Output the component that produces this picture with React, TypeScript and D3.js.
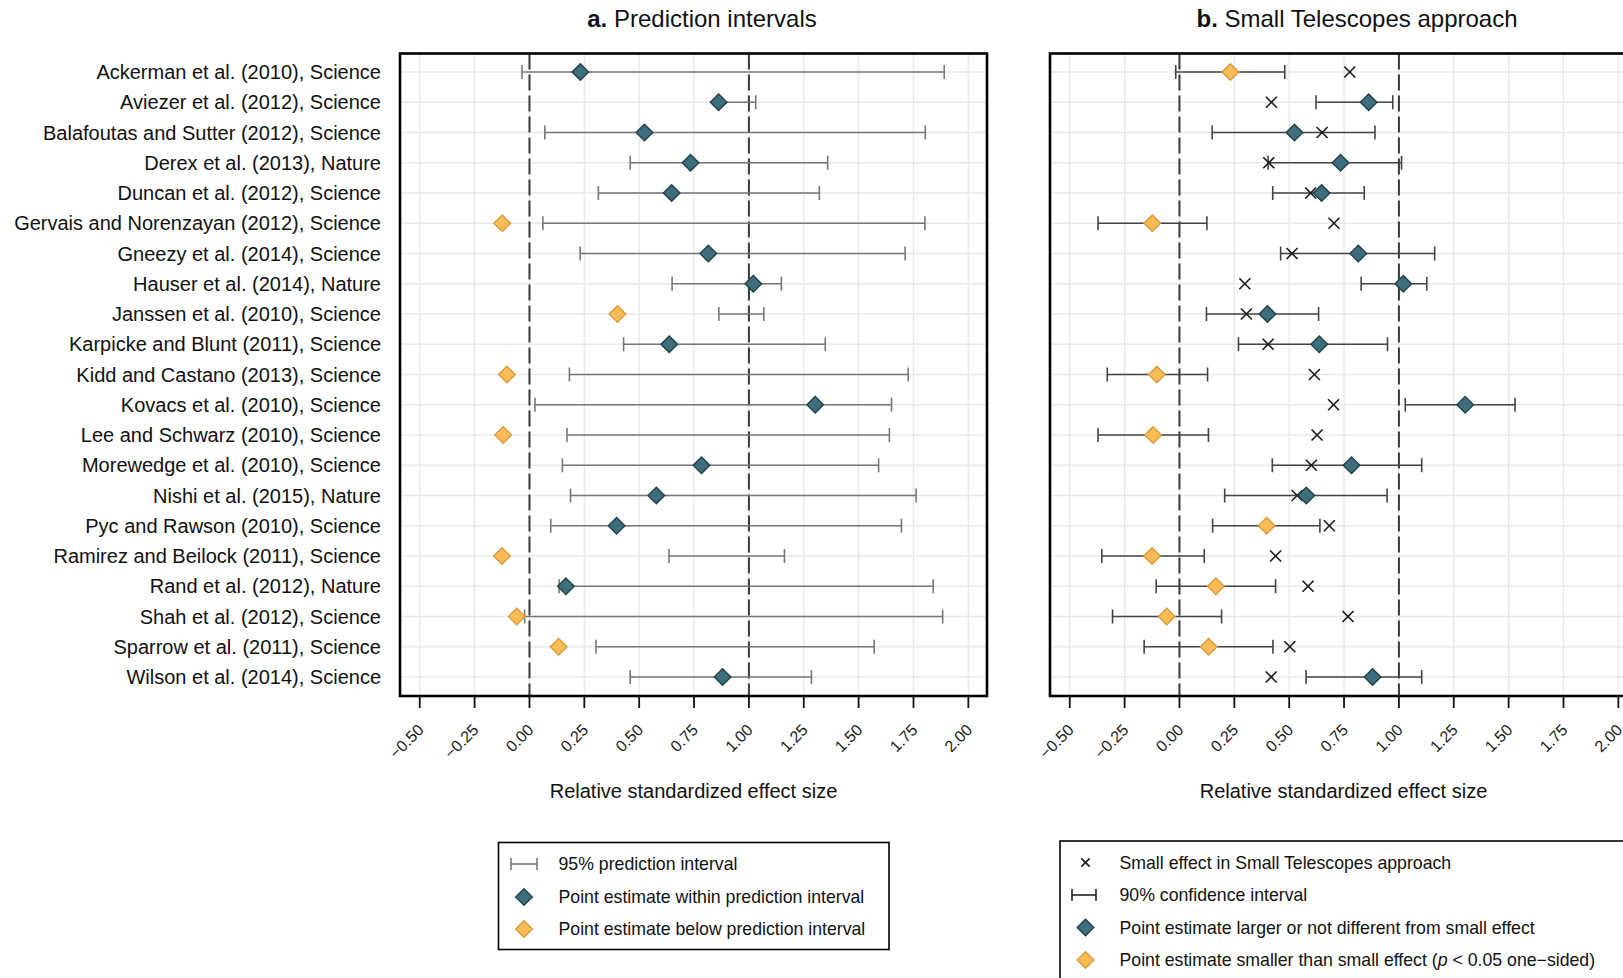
import React from "react";
import * as d3 from "d3";

const studies = [
  "Ackerman et al. (2010), Science",
  "Aviezer et al. (2012), Science",
  "Balafoutas and Sutter (2012), Science",
  "Derex et al. (2013), Nature",
  "Duncan et al. (2012), Science",
  "Gervais and Norenzayan (2012), Science",
  "Gneezy et al. (2014), Science",
  "Hauser et al. (2014), Nature",
  "Janssen et al. (2010), Science",
  "Karpicke and Blunt (2011), Science",
  "Kidd and Castano (2013), Science",
  "Kovacs et al. (2010), Science",
  "Lee and Schwarz (2010), Science",
  "Morewedge et al. (2010), Science",
  "Nishi et al. (2015), Nature",
  "Pyc and Rawson (2010), Science",
  "Ramirez and Beilock (2011), Science",
  "Rand et al. (2012), Nature",
  "Shah et al. (2012), Science",
  "Sparrow et al. (2011), Science",
  "Wilson et al. (2014), Science",
];

// point estimates (relative standardized effect size)
const estimate = [
  0.232, 0.862, 0.524, 0.734, 0.648, -0.124, 0.815, 1.02, 0.401, 0.637, -0.103,
  1.302, -0.12, 0.784, 0.578, 0.397, -0.125, 0.166, -0.058, 0.133, 0.88,
];

// 95% prediction interval (panel a)
const piLower = [
  -0.034, 0.855, 0.07, 0.459, 0.314, 0.061, 0.231, 0.65, 0.863, 0.429, 0.182,
  0.025, 0.171, 0.15, 0.187, 0.097, 0.636, 0.135, -0.022, 0.303, 0.459,
];
const piUpper = [
  1.89, 1.031, 1.804, 1.359, 1.321, 1.802, 1.712, 1.148, 1.068, 1.348, 1.726,
  1.65, 1.64, 1.591, 1.762, 1.695, 1.162, 1.84, 1.883, 1.571, 1.285,
];

// 90% confidence interval (panel b)
const ciLower = [
  -0.017, 0.622, 0.149, 0.404, 0.425, -0.371, 0.461, 0.828, 0.123, 0.269, -0.329,
  1.029, -0.371, 0.423, 0.206, 0.151, -0.354, -0.106, -0.305, -0.161, 0.577,
];
const ciUpper = [
  0.48, 0.972, 0.891, 1.012, 0.842, 0.125, 1.163, 1.127, 0.634, 0.948, 0.128,
  1.529, 0.132, 1.104, 0.946, 0.64, 0.113, 0.438, 0.192, 0.426, 1.104,
];
// small effect (d33) in Small Telescopes approach
const smallEffect = [
  0.776, 0.419, 0.65, 0.407, 0.598, 0.704, 0.513, 0.298, 0.305, 0.404, 0.615,
  0.702, 0.627, 0.601, 0.536, 0.683, 0.438, 0.586, 0.768, 0.503, 0.418,
];

const tickValues = [-0.5, -0.25, 0, 0.25, 0.5, 0.75, 1, 1.25, 1.5, 1.75, 2];
const tickLabels = ["\u22120.50", "\u22120.25", "0.00", "0.25", "0.50", "0.75", "1.00", "1.25", "1.50", "1.75", "2.00"];
const refLines = [0, 1];

const legendA = [
  "95% prediction interval",
  "Point estimate within prediction interval",
  "Point estimate below prediction interval",
];
const legendB = [
  "Small effect in Small Telescopes approach",
  "90% confidence interval",
  "Point estimate larger or not different from small effect",
];

const FONT = "'Liberation Sans', Arial, Helvetica, sans-serif";
const TEAL = "#3e6e7b";
const TEAL_STROKE = "#21414b";
const ORANGE = "#fbbb55";
const ORANGE_STROKE = "#d99a3d";
const GRID = "#e8e8e8";
const LEGEND_FS = 17.7;

const TOP = 53.5;
const BOTTOM = 696;
const DOMAIN: [number, number] = [-0.59, 2.085];

const y = d3.scalePoint<string>().domain(studies).range([72, 677]);
const diamondPath = d3.symbol().type(d3.symbolSquare).size(138)() as string;

function Diamond({ x, yy, orange }: { x: number; yy: number; orange: boolean }) {
  return (
    <path
      d={diamondPath}
      transform={`translate(${x},${yy}) rotate(45)`}
      fill={orange ? ORANGE : TEAL}
      stroke={orange ? ORANGE_STROKE : TEAL_STROKE}
      strokeWidth={1.4}
    />
  );
}

function Whisker({ x1, x2, yy, color, cap }: { x1: number; x2: number; yy: number; color: string; cap: number }) {
  return (
    <g stroke={color} strokeWidth={1.6} fill="none">
      <line x1={x1} x2={x2} y1={yy} y2={yy} />
      <line x1={x1} x2={x1} y1={yy - cap} y2={yy + cap} />
      <line x1={x2} x2={x2} y1={yy - cap} y2={yy + cap} />
    </g>
  );
}

function Cross({ x, yy, r }: { x: number; yy: number; r: number }) {
  return (
    <g stroke="#1e1e1e" strokeWidth={1.7}>
      <line x1={x - r} x2={x + r} y1={yy - r} y2={yy + r} />
      <line x1={x - r} x2={x + r} y1={yy + r} y2={yy - r} />
    </g>
  );
}

function Frame({ x, children }: { x: d3.ScaleLinear<number, number>; children: React.ReactNode }) {
  const [l, r] = x.range();
  return (
    <g>
      {tickValues.map((t) => (
        <line key={"g" + t} x1={x(t)} x2={x(t)} y1={TOP} y2={BOTTOM} stroke={GRID} strokeWidth={1.4} />
      ))}
      {studies.map((s) => (
        <line key={"h" + s} x1={l} x2={r} y1={y(s)} y2={y(s)} stroke={GRID} strokeWidth={1.4} />
      ))}
      {refLines.map((v) => (
        <line
          key={"ref" + v}
          x1={x(v)}
          x2={x(v)}
          y1={TOP}
          y2={BOTTOM}
          stroke="#3a3a3a"
          strokeWidth={2}
          strokeDasharray="16,5"
        />
      ))}
      {children}
      <rect x={l} y={TOP} width={r - l} height={BOTTOM - TOP} fill="none" stroke="#000" strokeWidth={2.6} />
      {tickValues.map((t, i) => (
        <g key={"t" + t}>
          <line x1={x(t)} x2={x(t)} y1={BOTTOM} y2={BOTTOM + 12} stroke="#111" strokeWidth={1.8} />
          <text
            transform={`translate(${x(t) + 5},${BOTTOM + 35}) rotate(-45)`}
            textAnchor="end"
            fontSize={16}
            fill="#1a1a1a"
          >
            {tickLabels[i]}
          </text>
        </g>
      ))}
      <text x={(l + r) / 2} y={798} textAnchor="middle" fontSize={20} fill="#111">
        Relative standardized effect size
      </text>
    </g>
  );
}

export default function App() {
  const xA = d3.scaleLinear().domain(DOMAIN).range([400, 987]);
  const xB = d3.scaleLinear().domain(DOMAIN).range([1050, 1637]);
  return (
    <svg
      width={1623}
      height={978}
      style={{ position: "absolute", left: 0, top: 0, background: "#fff" }}
      fontFamily={FONT}
    >
      <rect x={0} y={0} width={1623} height={978} fill="#fff" />
      {/* titles */}
      <text x={702} y={27} textAnchor="middle" fontSize={24} fill="#111">
        <tspan fontWeight="bold">a.</tspan> Prediction intervals
      </text>
      <text x={1357} y={27} textAnchor="middle" fontSize={24} fill="#111">
        <tspan fontWeight="bold">b.</tspan> Small Telescopes approach
      </text>

      {/* y labels */}
      {studies.map((s) => (
        <text key={s} x={381} y={y(s)} dy="0.35em" textAnchor="end" fontSize={20} fill="#111">
          {s}
        </text>
      ))}

      {/* panel a */}
      <Frame x={xA}>
        {studies.map((s, i) => (
          <Whisker key={"w" + s} x1={xA(piLower[i])} x2={xA(piUpper[i])} yy={y(s)!} color="#777" cap={7} />
        ))}
        {studies.map((s, i) => (
          <Diamond key={"d" + s} x={xA(estimate[i])} yy={y(s)!} orange={estimate[i] < piLower[i]} />
        ))}
      </Frame>

      {/* panel b */}
      <Frame x={xB}>
        {studies.map((s, i) => (
          <Whisker key={"w" + s} x1={xB(ciLower[i])} x2={xB(ciUpper[i])} yy={y(s)!} color="#444" cap={7} />
        ))}
        {studies.map((s, i) => (
          <Cross key={"c" + s} x={xB(smallEffect[i])} yy={y(s)!} r={5.5} />
        ))}
        {studies.map((s, i) => (
          <Diamond key={"d" + s} x={xB(estimate[i])} yy={y(s)!} orange={ciUpper[i] < smallEffect[i]} />
        ))}
      </Frame>

      {/* legend a */}
      <g>
        <rect x={498.5} y={842.5} width={390.5} height={107} fill="none" stroke="#000" strokeWidth={1.6} />
        <Whisker x1={511} x2={537} yy={864} color="#777" cap={6} />
        <Diamond x={524} yy={897} orange={false} />
        <Diamond x={524} yy={929} orange={true} />
        {legendA.map((t, i) => (
          <text key={t} x={558.5} y={[864, 897, 929][i]} dy="0.35em" fontSize={LEGEND_FS} fill="#111">
            {t}
          </text>
        ))}
      </g>

      {/* legend b */}
      <g>
        <rect x={1060} y={841} width={620} height={200} fill="none" stroke="#000" strokeWidth={1.6} />
        <Cross x={1085.5} yy={862.5} r={4.2} />
        <Whisker x1={1072} x2={1096} yy={895} color="#222" cap={6} />
        <Diamond x={1085.5} yy={927.5} orange={false} />
        <Diamond x={1085.5} yy={960} orange={true} />
        {legendB.map((t, i) => (
          <text key={t} x={1119.5} y={[862.5, 895, 927.5][i]} dy="0.35em" fontSize={LEGEND_FS} fill="#111">
            {t}
          </text>
        ))}
        <text x={1119.5} y={960} dy="0.35em" fontSize={LEGEND_FS} fill="#111">
          Point estimate smaller than small effect (<tspan fontStyle="italic">p</tspan> {"<"} 0.05 one{"\u2212"}sided)
        </text>
      </g>
    </svg>
  );
}
